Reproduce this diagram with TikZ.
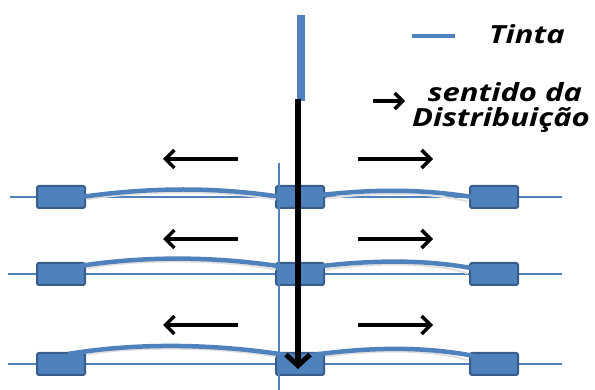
\documentclass[tikz,border=0pt]{standalone}
\usepackage{fontspec}
\setmainfont{Open Sans}
\usetikzlibrary{arrows.meta}
\definecolor{inkblue}{HTML}{4F81BD}
\definecolor{boxedge}{HTML}{385D8A}
\tikzset{
  guide/.style={draw=inkblue, line width=1.3pt},
  block/.style={draw=boxedge, fill=inkblue, line width=2pt, rounded corners=2pt,
    minimum width=48pt, minimum height=22pt, inner sep=0pt},
  inkcurve/.style={draw=inkblue, line width=4.5pt},
  inkshade/.style={draw=black!12, line width=2pt},
  flow/.style={draw=black, line width=3.2pt, -{Straight Barb[length=9pt,width=18pt,line width=3.5pt]}},
  mainflow/.style={draw=black, line width=5.5pt, -{Straight Barb[length=11pt,width=24pt,line width=5pt]}},
  legendtext/.style={font=\fontsize{25}{30}\selectfont\bfseries\itshape\addfontfeature{FakeStretch=1.24}, inner sep=0pt}
}
\begin{document}
\begin{tikzpicture}[x=1pt,y=-1pt]
\useasboundingbox (0,0) rectangle (595,390);

% thin guide lines of the three rows
\coordinate (g1a) at (10,197);  \coordinate (g1b) at (562,197);
\coordinate (g2a) at (8,274);   \coordinate (g2b) at (562,274);
\coordinate (g3a) at (8,364);   \coordinate (g3b) at (562,364);
\draw[guide] (g1a) -- (g1b);
\draw[guide] (g2a) -- (g2b);
\draw[guide] (g3a) -- (g3b);

% blocks
\foreach \r/\y in {1/197, 2/274, 3/364} {
  \node[block] (L\r) at (61,\y) {};
  \node[block] (C\r) at (300,\y) {};
  \node[block] (R\r) at (494,\y) {};
}

% ink curves with soft shading
\begin{scope}[shift={(0,3.5)}]
\draw[inkshade] (86,196) .. controls (150,186) and (220,187) .. (276,196);
\draw[inkshade] (326,195) .. controls (380,188) and (430,189) .. (468,198);
\draw[inkshade] (86,265) .. controls (140,255) and (220,256) .. (276,266);
\draw[inkshade] (326,266) .. controls (380,258) and (440,260) .. (468,270);
\draw[inkshade] (86,351) .. controls (140,342) and (220,344) .. (276,353);
\draw[inkshade] (326,353) .. controls (380,345) and (440,347) .. (468,357);
\end{scope}
\draw[inkcurve] (68,199) .. controls (150,186) and (220,187) .. (288,198);
\draw[inkcurve] (312,196) .. controls (380,188) and (430,189) .. (490,200);
\draw[inkcurve] (68,268) .. controls (140,255) and (220,256) .. (290,268);
\draw[inkcurve] (306,268) .. controls (380,258) and (440,260) .. (490,272);
\draw[inkcurve] (68,354) .. controls (140,342) and (220,344) .. (292,356);
\draw[inkcurve] (305,356) .. controls (380,345) and (440,347) .. (492,360);

% vertical guide
\coordinate (vtop) at (279,163);
\coordinate (vbot) at (279,390);
\draw[guide] (vtop) -- (vbot);

% ink feed and main flow
\coordinate (feedtop) at (301,15);
\coordinate (feedbot) at (301,101);
\draw[draw=inkblue, line width=8pt] (feedtop) -- (feedbot);
\coordinate (flowtop) at (298,99);
\coordinate (flowbot) at (298,369);
\draw[mainflow] (flowtop) -- (flowbot);

% horizontal distribution arrows
\foreach \y in {159, 239, 325} {
  \coordinate (la) at (238,\y); \coordinate (lb) at (163,\y);
  \coordinate (ra) at (358,\y); \coordinate (rb) at (433,\y);
  \draw[flow] (la) -- (lb);
  \draw[flow] (ra) -- (rb);
}

% legend
\coordinate (k1a) at (412,36); \coordinate (k1b) at (455,36);
\draw[draw=inkblue, line width=4pt] (k1a) -- (k1b);
\node[legendtext, anchor=base west] (tinta) at (489,44) {Tinta};
\coordinate (k2a) at (373,101); \coordinate (k2b) at (405,101);
\draw[draw=black, line width=3.2pt, -{Straight Barb[length=8pt,width=16pt,line width=3.5pt]}] (k2a) -- (k2b);
\node[legendtext, anchor=base] (sent) at (505,102) {sentido da};
\node[legendtext, anchor=base] (dist) at (501,127) {Distribuição};
\end{tikzpicture}
\end{document}
